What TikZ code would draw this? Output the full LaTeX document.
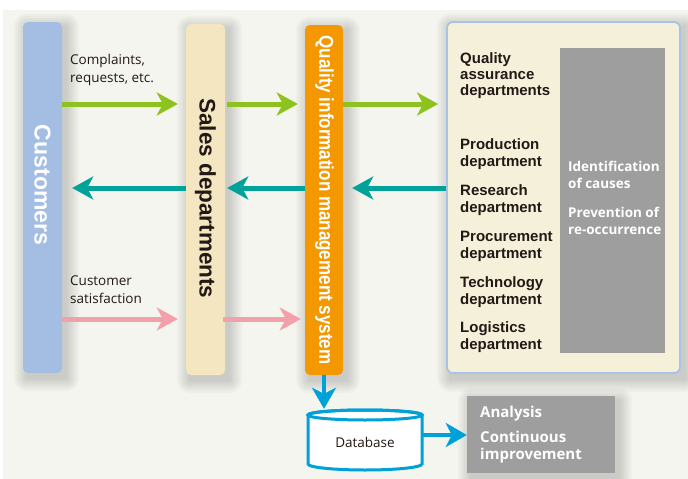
\documentclass[tikz,border=0pt]{standalone}
\usepackage{fontspec}
\setmainfont{Liberation Sans}
\newfontfamily\osans{Open Sans}
\newfontfamily\qimsfont[FakeStretch=0.85]{Liberation Sans}
\usetikzlibrary{arrows.meta,calc}
\pgfdeclarelayer{backl}
\pgfdeclarelayer{shadl}
\pgfsetlayers{backl,shadl,main}
\definecolor{bgc}{HTML}{F4F5EF}
\definecolor{custblue}{HTML}{A3BDE3}
\definecolor{salesc}{HTML}{F4E6C0}
\definecolor{qimsc}{HTML}{F39800}
\definecolor{boxfill}{HTML}{F5F0DA}
\definecolor{boxborder}{HTML}{A8C3E8}
\definecolor{grayc}{HTML}{9E9E9E}
\definecolor{greenc}{HTML}{8DC21F}
\definecolor{tealc}{HTML}{00A29A}
\definecolor{pinkc}{HTML}{F4A0AB}
\definecolor{bluec}{HTML}{00A0D8}
\definecolor{darkc}{HTML}{231815}
\newcommand{\softshadow}[1]{%
  \begin{pgfonlayer}{shadl}
  \foreach \r in {1,3,...,13}{%
    \fill[black,opacity=0.022,rounded corners=\r pt]
      ($(#1.north west)+(4-\r,5-\r)$) rectangle ($(#1.south east)+(4+\r,5+\r)$);}
  \end{pgfonlayer}}
\begin{document}
\begin{tikzpicture}[x=1pt,y=-1pt,
  bar/.style={rounded corners=5pt,minimum width=39pt,inner sep=0pt,draw=none},
  arr/.style={line width=5pt,-{Stealth[length=21pt,width=23pt,inset=6pt]}},
  garrow/.style={arr,draw=greenc},
  tarrow/.style={arr,draw=tealc},
  parrow/.style={arr,draw=pinkc},
  barrow/.style={line width=4pt,draw=bluec,-{Stealth[length=21pt,width=24pt,inset=6pt]}},
  lbl/.style={font=\osans\fontsize{13.5}{18}\selectfont,text=darkc,align=left,inner sep=0pt,anchor=base west},
  dept/.style={font=\bfseries\fontsize{15}{17}\selectfont,text=darkc,align=left,inner sep=0pt,anchor=base west},
  wlbl/.style={font=\osans\bfseries\fontsize{13.5}{17}\selectfont,text=white,align=left,inner sep=0pt,anchor=base west},
  vtext/.style={rotate=-90,inner sep=0pt}]
\useasboundingbox (0,0) rectangle (688,479);
\begin{pgfonlayer}{backl}
\fill[white] (0,0) rectangle (688,479);
\fill[bgc] (3,10) rectangle (688,479);
\end{pgfonlayer}

% bars
\node[bar,fill=custblue,minimum height=351pt] (cust) at (42.5,197.5) {};
\node[bar,fill=salesc,minimum height=351pt] (sales) at (205.5,199.5) {};
\node[bar,fill=qimsc,minimum width=38pt,minimum height=350pt] (qims) at (324,200) {};
\node[vtext,text=white,font=\bfseries\fontsize{23}{23}\selectfont] (custt) at (42.5,185) {Customers};
\node[vtext,text=darkc,font=\bfseries\fontsize{22.5}{22.5}\selectfont] (salest) at (205.5,198.5) {Sales departments};
\node[vtext,text=white,font=\qimsfont\bfseries\fontsize{20}{20}\selectfont] (qimst) at (324.5,200) {Quality information management system};

% right box
\node[draw=boxborder,line width=1.8pt,fill=boxfill,rounded corners=6pt,minimum width=233pt,minimum height=351pt,inner sep=0pt] (rbox) at (563.5,197.5) {};
\node[fill=grayc,minimum width=105pt,minimum height=305pt,inner sep=0pt] (gbox) at (612.5,200.5) {};

\node[dept,font=\bfseries\fontsize{15}{16}\selectfont] (dqa) at (460,95) {Quality\\assurance\\departments};
\node[dept] (dprod) at (460,166) {Production\\department};
\node[dept] (dres) at (460,212) {Research\\department};
\node[dept] (dproc) at (460,258) {Procurement\\department};
\node[dept] (dtech) at (460,304) {Technology\\department};
\node[dept] (dlog) at (460,349) {Logistics\\department};
\node[wlbl] (gid) at (568,188) {Identification\\of causes};
\node[wlbl] (gprev) at (568,234) {Prevention of\\re-occurrence};

% labels
\node[lbl] (tcomp) at (70,82) {Complaints,\\requests, etc.};
\node[lbl] (tsat) at (70,303) {Customer\\satisfaction};

% database
\node[minimum width=115pt,minimum height=58pt,inner sep=0pt] (db) at (365,441) {};
\draw[bluec,line width=3pt,fill=white] (308,415) -- (308,464) arc[start angle=180,end angle=0,x radius=57,y radius=6] -- (422,415) arc[start angle=0,end angle=-180,x radius=57,y radius=5] -- cycle;
\draw[bluec,line width=3pt] (365,415) ellipse[x radius=57,y radius=5];
\node[font=\osans\fontsize{13.5}{16}\selectfont,text=darkc] (dbt) at (365,442) {Database};

% analysis box
\node[fill=grayc,minimum width=148pt,minimum height=77pt,inner sep=0pt] (anal) at (541,434.5) {};
\node[wlbl,font=\osans\bfseries\fontsize{15}{18}\selectfont] (ta1) at (480,417) {Analysis};
\node[wlbl,font=\osans\bfseries\fontsize{15}{17.5}\selectfont] (ta2) at (480,459.5) {Continuous\\improvement};

% shadows
\softshadow{cust}
\softshadow{sales}
\softshadow{qims}
\softshadow{rbox}
\softshadow{anal}

% rows
\coordinate (rA) at (0,104);
\coordinate (rB) at (0,188);
\coordinate (rC) at (0,319);

% arrows
\draw[garrow,shorten >=8pt] (cust.east |- rA) -- (sales.west |- rA);
\draw[garrow,shorten >=7pt,shorten <=2pt] (sales.east |- rA) -- (qims.west |- rA);
\draw[garrow,shorten >=8pt] (qims.east |- rA) -- (rbox.west |- rA);
\draw[tarrow,shorten >=10pt] (sales.west |- rB) -- (cust.east |- rB);
\draw[tarrow,shorten >=2pt] (qims.west |- rB) -- (sales.east |- rB);
\draw[tarrow,shorten >=9pt] (rbox.west |- rB) -- (qims.east |- rB);
\draw[parrow,shorten >=8pt] (cust.east |- rC) -- (sales.west |- rC);
\draw[parrow,shorten >=4pt,shorten <=-2pt] (sales.east |- rC) -- (qims.west |- rC);
\draw[barrow,shorten >=3pt] (qims.south) -- (qims.south |- db.north);
\coordinate (dbr) at (422,435);
\draw[barrow] (dbr) -- (dbr -| anal.west);
\end{tikzpicture}
\end{document}
